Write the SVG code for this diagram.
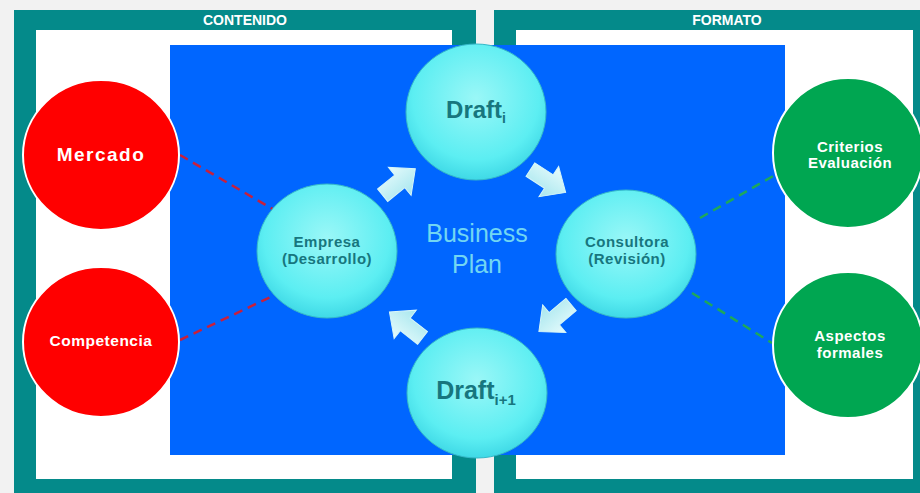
<svg xmlns="http://www.w3.org/2000/svg" width="920" height="493" viewBox="0 0 920 493">
<defs>
<radialGradient id="cyan" cx="50%" cy="40%" r="60%">
<stop offset="0" stop-color="#9af7f7"/>
<stop offset="0.75" stop-color="#5ceef2"/>
<stop offset="1" stop-color="#3fd9e6"/>
</radialGradient>
<linearGradient id="arr" x1="0" y1="0" x2="0" y2="1">
<stop offset="0" stop-color="#e6fbfc"/>
<stop offset="1" stop-color="#a6e6ee"/>
</linearGradient>
<polygon id="blockArrow" points="-21,-8 1,-8 1,-18 21,0 1,18 1,8 -21,8"/>
</defs>
<style>
.frame{fill:#048a8a}
.inner{fill:#ffffff}
.hdr{font-family:"Liberation Sans",Arial,sans-serif;font-weight:bold;font-size:14px;fill:#ffffff;text-anchor:middle}
.red{fill:#ff0000;stroke:#ffffff;stroke-width:2}
.green{fill:#00a651;stroke:#ffffff;stroke-width:2}
.cyan{fill:url(#cyan);stroke:#35b8c8;stroke-width:1}
.wt{font-family:"Liberation Sans",Arial,sans-serif;font-weight:bold;fill:#ffffff;text-anchor:middle}
.ct{font-family:"Liberation Sans",Arial,sans-serif;font-weight:bold;fill:#17767e;text-anchor:middle;font-size:15px;letter-spacing:0.5px}
.arrow{fill:url(#arr);stroke:#d8f6f8;stroke-width:1}
.dr{stroke:#c8203c;stroke-width:2.5;stroke-dasharray:9 6;fill:none}
.dg{stroke:#1ea85a;stroke-width:2.5;stroke-dasharray:9 6;fill:none}
</style>
<rect x="0" y="0" width="920" height="493" fill="#f2f2f2"/>
<g id="frame-contenido">
<rect class="frame" x="14" y="10" width="462" height="483"/>
<rect class="inner" x="36" y="30" width="416" height="449"/>
<text class="hdr" x="245" y="25">CONTENIDO</text>
</g>
<g id="frame-formato">
<rect class="frame" x="494" y="10" width="426" height="483"/>
<rect class="inner" x="516" y="30" width="397" height="449"/>
<text class="hdr" x="727" y="25">FORMATO</text>
</g>
<rect id="business-area" x="170" y="45" width="615" height="410" fill="#0066ff"/>
<text x="477" y="242" font-family="Liberation Sans,Arial,sans-serif" font-size="25" fill="#72d6f2" text-anchor="middle">Business</text>
<text x="477" y="273" font-family="Liberation Sans,Arial,sans-serif" font-size="25" fill="#72d6f2" text-anchor="middle">Plan</text>
<g id="connectors">
<line class="dr" x1="180" y1="155" x2="276" y2="211"/>
<line class="dr" x1="180" y1="340" x2="279" y2="293"/>
<line class="dg" x1="700" y1="218" x2="775" y2="175"/>
<line class="dg" x1="692" y1="293" x2="772" y2="343"/>
<use href="#blockArrow" class="arrow" transform="translate(399,182) rotate(-39)"/>
<use href="#blockArrow" class="arrow" transform="translate(548,181) rotate(33)"/>
<use href="#blockArrow" class="arrow" transform="translate(555,318) rotate(140)"/>
<use href="#blockArrow" class="arrow" transform="translate(406,325) rotate(218)"/>
</g>
<g id="mercado">
<ellipse class="red" cx="101" cy="155" rx="78" ry="75"/>
<text class="wt" x="101" y="161" font-size="19" letter-spacing="1.5">Mercado</text>
</g>
<g id="competencia">
<ellipse class="red" cx="101" cy="342" rx="78" ry="75"/>
<text class="wt" x="101" y="346" font-size="15.5" letter-spacing="0.5">Competencia</text>
</g>
<g id="criterios">
<ellipse class="green" cx="848" cy="153" rx="75" ry="75"/>
<text class="wt" x="850" y="152" font-size="15" letter-spacing="0.5">Criterios</text>
<text class="wt" x="850" y="168" font-size="15" letter-spacing="0.5">Evaluación</text>
</g>
<g id="aspectos">
<ellipse class="green" cx="848" cy="345" rx="75" ry="73"/>
<text class="wt" x="850" y="341" font-size="15" letter-spacing="0.5">Aspectos</text>
<text class="wt" x="850" y="358" font-size="15" letter-spacing="0.5">formales</text>
</g>
<g id="draft-i">
<ellipse class="cyan" cx="476" cy="112" rx="70" ry="68"/>
<text x="476" y="118" font-family="Liberation Sans,Arial,sans-serif" font-weight="bold" fill="#17767e" text-anchor="middle"><tspan font-size="24">Draft</tspan><tspan font-size="14" dy="5">i</tspan></text>
</g>
<g id="empresa">
<ellipse class="cyan" cx="327" cy="251" rx="70" ry="67"/>
<text class="ct" x="327" y="247">Empresa</text>
<text class="ct" x="327" y="264">(Desarrollo)</text>
</g>
<g id="consultora">
<ellipse class="cyan" cx="626" cy="254" rx="70" ry="64"/>
<text class="ct" x="627" y="247">Consultora</text>
<text class="ct" x="627" y="264">(Revisión)</text>
</g>
<g id="draft-i1">
<ellipse class="cyan" cx="477" cy="393" rx="70" ry="65"/>
<text x="476" y="399" font-family="Liberation Sans,Arial,sans-serif" font-weight="bold" fill="#17767e" text-anchor="middle"><tspan font-size="25">Draft</tspan><tspan font-size="15" dy="6">i+1</tspan></text>
</g>
</svg>
